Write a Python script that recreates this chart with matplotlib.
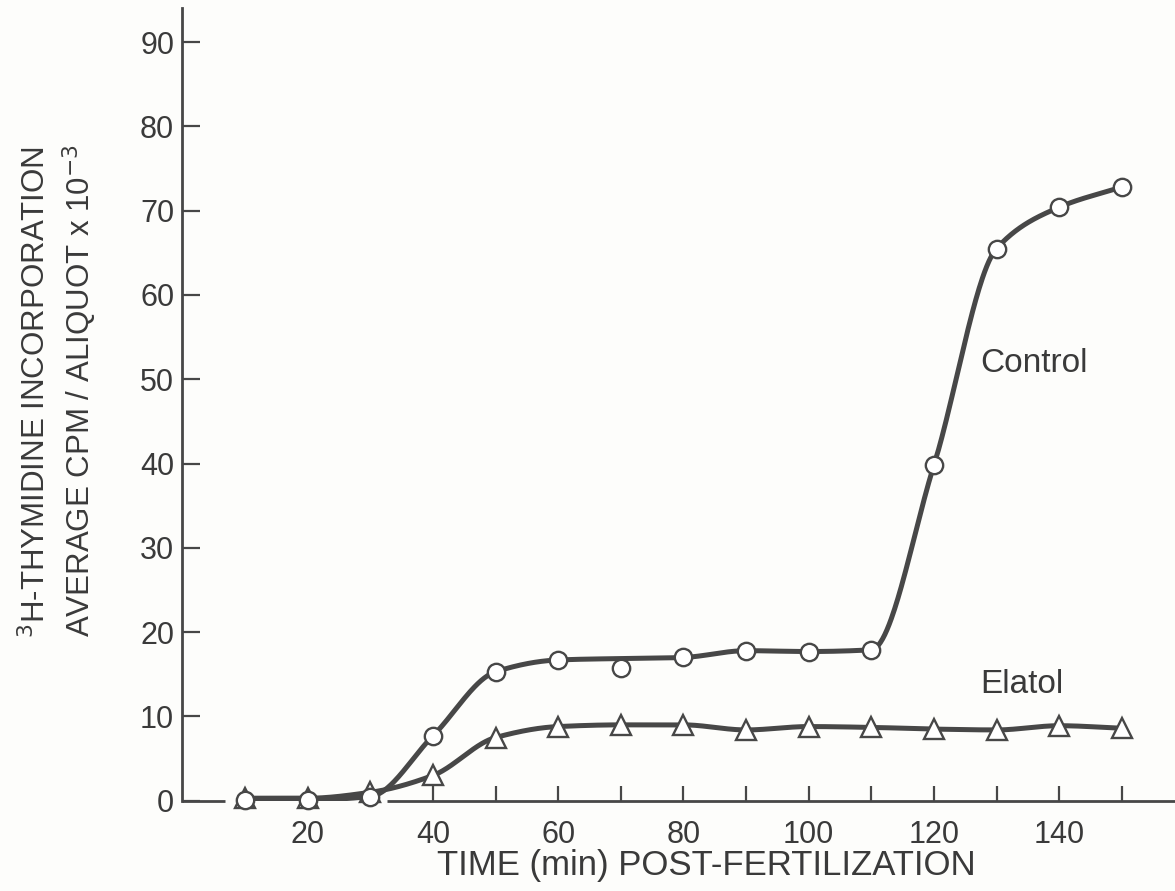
import numpy as np
import matplotlib
matplotlib.use("Agg")
import matplotlib.pyplot as plt

# Sampling times (min post-fertilization)
time_min = [10, 20, 30, 40, 50, 60, 70, 80, 90, 100, 110, 120, 130, 140, 150]

# Average CPM / aliquot x 10^-3
control_cpm = [0.1, 0.1, 0.5, 7.7, 15.3, 16.7, 15.8, 17.0, 17.8, 17.7, 17.9, 39.8, 65.5, 70.4, 72.8]
elatol_cpm = [0.3, 0.3, 1.0, 3.0, 7.5, 8.8, 9.0, 9.0, 8.4, 8.8, 8.7, 8.5, 8.4, 8.9, 8.6]

# The 70-min control sample is plotted but left out of the drawn curve
control_in_curve = [True, True, True, True, True, True, False, True, True, True, True, True, True, True, True]

x_tick_values = [20, 40, 60, 80, 100, 120, 140]
y_tick_values = [0, 10, 20, 30, 40, 50, 60, 70, 80, 90]

INK = "#474747"
TEXT = "#3a3a3a"
BG = "#fdfdfb"


def pchip(x, y, xs):
    """Monotone piecewise cubic Hermite interpolation (Fritsch-Carlson)."""
    x = np.asarray(x, float)
    y = np.asarray(y, float)
    h = np.diff(x)
    d = np.diff(y) / h
    m = np.zeros_like(y)
    for k in range(1, len(x) - 1):
        if d[k - 1] * d[k] > 0:
            w1 = 2 * h[k] + h[k - 1]
            w2 = h[k] + 2 * h[k - 1]
            m[k] = (w1 + w2) / (w1 / d[k - 1] + w2 / d[k])
    m[0] = d[0]
    m[-1] = d[-1]
    idx = np.clip(np.searchsorted(x, xs) - 1, 0, len(x) - 2)
    t = (xs - x[idx]) / h[idx]
    h00 = 2 * t**3 - 3 * t**2 + 1
    h10 = t**3 - 2 * t**2 + t
    h01 = -2 * t**3 + 3 * t**2
    h11 = t**3 - t**2
    return h00 * y[idx] + h10 * h[idx] * m[idx] + h01 * y[idx + 1] + h11 * h[idx] * m[idx + 1]


plt.rcParams["font.family"] = ["Liberation Sans", "DejaVu Sans"]

fig = plt.figure(figsize=(11.75, 8.91), dpi=100, facecolor=BG)
ax = fig.add_axes([0.1553, 0.1013, 0.8447, 0.8894])
ax.set_facecolor(BG)

t = np.asarray(time_min, float)
ctrl = np.asarray(control_cpm, float)
elat = np.asarray(elatol_cpm, float)
keep = np.asarray(control_in_curve)

xs = np.linspace(t[0], t[-1], 800)

# Smooth curves
ax.plot(xs, pchip(t, elat, xs), color=INK, lw=3.6, solid_capstyle="round", zorder=3)
ax.plot(xs, pchip(t[keep], ctrl[keep], xs), color=INK, lw=3.6, solid_capstyle="round", zorder=3)

# Data points
ax.plot(t, elat, linestyle="none", marker="^", markersize=14, markeredgewidth=1.7,
        markerfacecolor="white", markeredgecolor=INK, zorder=4, clip_on=False)
ax.plot(t, ctrl, linestyle="none", marker="o", markersize=12.5, markeredgewidth=1.7,
        markerfacecolor="white", markeredgecolor=INK, zorder=5, clip_on=False)

ax.set_xlim(0, 158.5)
ax.set_ylim(0, 94.0)

# Axes frame: left spine only, bottom line broken around the early points
for side in ("top", "right", "bottom"):
    ax.spines[side].set_visible(False)
ax.spines["left"].set_linewidth(2.0)
ax.spines["left"].set_color(INK)
ax.plot([0, 6.8], [0, 0], color=INK, lw=2.0, clip_on=False, zorder=2, solid_capstyle="butt")
ax.plot([32.7, 158.5], [0, 0], color=INK, lw=2.0, clip_on=False, zorder=2, solid_capstyle="butt")

ax.set_yticks(y_tick_values)
ax.set_yticklabels([str(v) for v in y_tick_values])
ax.tick_params(axis="y", direction="in", length=13, width=1.6, color=INK,
               labelsize=22, labelcolor=TEXT, pad=6)

ax.set_xticks(x_tick_values)
ax.set_xticklabels([str(v) for v in x_tick_values])
ax.set_xticks(list(range(50, 151, 20)), minor=True)
ax.tick_params(axis="x", which="both", direction="in", length=11, width=1.6, color=INK,
               labelsize=22, labelcolor=TEXT, pad=14)
ax.xaxis.get_major_ticks()[0].tick1line.set_visible(False)

# Axis titles
fig.text(706 / 1175, 1 - 866 / 891, "TIME (min) POST-FERTILIZATION", ha="center", va="center",
         fontsize=25, color=TEXT)
fig.text(36 / 1175, 1 - 392 / 891, r"$^{3}$H-THYMIDINE INCORPORATION", rotation=90,
         ha="center", va="center", fontsize=22.5, color=TEXT)
fig.text(80 / 1175, 1 - 391 / 891, r"AVERAGE CPM / ALIQUOT x 10$^{-3}$", rotation=90,
         ha="center", va="center", fontsize=22.5, color=TEXT)

# Series labels
ax.text(136.0, 51.9, "Control", ha="center", va="center", fontsize=24, color=TEXT)
ax.text(134.1, 13.8, "Elatol", ha="center", va="center", fontsize=24, color=TEXT)

fig.savefig("out.png", dpi=100, facecolor=BG)
